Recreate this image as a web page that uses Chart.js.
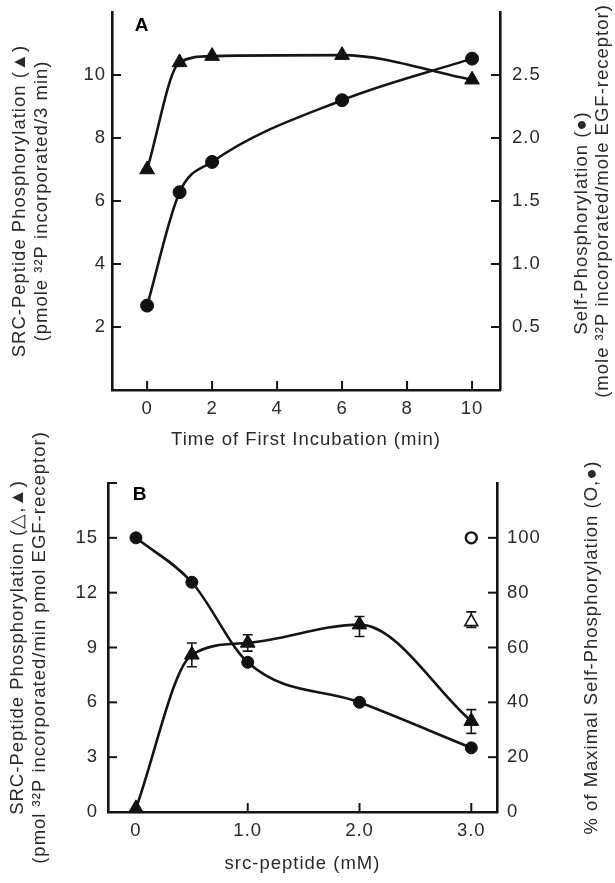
<!DOCTYPE html>
<html>
<head>
<meta charset="utf-8">
<script src="https://cdn.jsdelivr.net/npm/chart.js@4.4.1/dist/chart.umd.min.js"></script>
<style>
  html, body { margin: 0; padding: 0; background: #fff; }
  canvas { position: absolute; left: 0; }
  #chartA { top: 0; }
  #chartB { top: 425px; }
</style>
</head>
<body>
<canvas id="chartA" width="615" height="460"></canvas>
<canvas id="chartB" width="615" height="458"></canvas>
<script>
// ---- Panel A: time of first incubation ----
const timeMin = [0, 1, 2, 6, 10];
const srcPhosA = [7.0, 10.4, 10.6, 10.63, 9.85];      // left axis, triangles
const selfPhosA = [0.67, 1.57, 1.81, 2.30, 2.63];     // right axis, circles
const xTicksA = [0, 2, 4, 6, 8, 10];
const leftTicksA = [2, 4, 6, 8, 10];
const rightTicksA = [0.5, 1.0, 1.5, 2.0, 2.5];

// ---- Panel B: src-peptide concentration ----
const peptideMM = [0, 0.5, 1.0, 2.0, 3.0];
const srcPhosB = [0.2, 8.6, 9.25, 10.25, 4.97];       // left axis, filled triangles
const srcPhosBLow = [null, 7.95, 8.8, 9.6, 4.3];
const srcPhosBHigh = [null, 9.25, 9.7, 10.7, 5.6];
const selfPhosB = [100, 83.8, 54.6, 40, 23.4];        // right axis, filled circles
const controlMM = [3.0];
const controlSrcPhos = [10.4];                        // open triangle
const controlSrcLow = [10.1];
const controlSrcHigh = [10.95];
const controlSelfPhos = [100];                        // open circle
const xTicksB = [0, 1, 2, 3];
const xTickLabelsB = ['0', '1.0', '2.0', '3.0'];
const leftTicksB = [0, 3, 6, 9, 12, 15];
const rightTicksB = [0, 20, 40, 60, 80, 100];

// ---- axis titles ----
const leftTitleA = ['SRC-Peptide Phosphorylation (\u25B2)', '(pmole \u00B3\u00B2P incorporated/3 min)'];
const rightTitleA = ['Self-Phosphorylation (\u25CF)', '(mole \u00B3\u00B2P incorporated/mole EGF-receptor)'];
const xTitleA = 'Time of First Incubation (min)';
const leftTitleB = ['SRC-Peptide Phosphorylation (\u25B3,\u25B2)', '(pmol \u00B3\u00B2P incorporated/min pmol EGF-receptor)'];
const rightTitleB = ['% of Maximal Self-Phosphorylation (O,\u25CF)'];
const xTitleB = 'src-peptide (mM)';

const ink = '#151515';
const textInk = '#2a2a2a';
const family = "'Liberation Sans', Arial, sans-serif";
Chart.defaults.font.family = family;
Chart.defaults.color = textInk;

const pts = (xs, ys) => xs.map((x, i) => ({ x: x, y: ys[i] }));

// loose tracking like the scanned Helvetica
const spacing = {
  id: 'spacing',
  beforeLayout(chart) { chart.ctx.letterSpacing = '1px'; },
  beforeDraw(chart) { chart.ctx.letterSpacing = '1px'; }
};

// ticks point into the plot, drawn from the scales' own ticks
const inwardTicks = {
  id: 'inwardTicks',
  afterDraw(chart, args, opts) {
    const ctx = chart.ctx;
    const len = 9;
    ctx.save();
    ctx.strokeStyle = ink;
    ctx.lineWidth = 2;
    Object.values(chart.scales).forEach(scale => {
      const vals = scale.ticks.map(t => t.value);
      if (opts.hook && scale.id === 'y') vals.push(scale.max);
      vals.forEach(v => {
        const p = scale.getPixelForValue(v);
        ctx.beginPath();
        if (scale.axis === 'x') {
          ctx.moveTo(p, scale.top); ctx.lineTo(p, scale.top - len);
        } else if (scale.position === 'left') {
          ctx.moveTo(scale.right, p); ctx.lineTo(scale.right + len, p);
        } else {
          ctx.moveTo(scale.left, p); ctx.lineTo(scale.left - len, p);
        }
        ctx.stroke();
      });
    });
    ctx.restore();
  }
};

// vertical error bars with caps
const errorBars = {
  id: 'errorBars',
  beforeDatasetsDraw(chart) {
    const ctx = chart.ctx;
    ctx.save();
    ctx.strokeStyle = ink;
    ctx.lineWidth = 1.6;
    chart.data.datasets.forEach((ds, di) => {
      if (!ds.errLow) return;
      const meta = chart.getDatasetMeta(di);
      const ys = chart.scales[ds.yAxisID];
      meta.data.forEach((el, i) => {
        if (ds.errLow[i] == null) return;
        const x = el.x;
        const y1 = ys.getPixelForValue(ds.errLow[i]);
        const y2 = ys.getPixelForValue(ds.errHigh[i]);
        ctx.beginPath();
        ctx.moveTo(x, y1); ctx.lineTo(x, y2);
        ctx.moveTo(x - 5, y1); ctx.lineTo(x + 5, y1);
        ctx.moveTo(x - 5, y2); ctx.lineTo(x + 5, y2);
        ctx.stroke();
      });
    });
    ctx.restore();
  }
};

// panel letter and right-hand titles (read bottom to top like the left ones)
const panelText = {
  id: 'panelText',
  afterDraw(chart, args, opts) {
    const ctx = chart.ctx;
    const area = chart.chartArea;
    ctx.save();
    ctx.fillStyle = '#000';
    ctx.font = 'bold 19px ' + family;
    ctx.textAlign = 'center';
    ctx.textBaseline = 'middle';
    ctx.fillText(opts.letter, area.left + opts.letterDx, area.top + opts.letterDy);
    ctx.fillStyle = textInk;
    ctx.font = '18.5px ' + family;
    const rs = chart.scales.yR;
    const cy = (area.top + area.bottom) / 2;
    opts.rightTitle.forEach((line, i) => {
      ctx.save();
      ctx.translate(rs.left + opts.rightDx[i], cy + opts.rightDy[i]);
      ctx.rotate(-Math.PI / 2);
      ctx.fillText(line, 0, 0);
      ctx.restore();
    });
    ctx.restore();
  }
};

const tickFont = { size: 18.5 };
const titleFont = { size: 18.5, lineHeight: 1.2 };
const border = { display: true, color: ink, width: 2.6 };
const noGrid = { display: false, drawTicks: false };

// fixed axis boxes so the plot area sits where the figure has it
const fixWidth = w => s => { s.width = w; s.paddingTop = 0; s.paddingBottom = 0; };
const fixHeight = h => s => { s.height = h; s.paddingLeft = 0; s.paddingRight = 0; };

function lineSet(data, axis, style, radius) {
  return {
    data: data,
    yAxisID: axis,
    borderColor: ink,
    backgroundColor: ink,
    borderWidth: 2.6,
    pointStyle: style,
    pointRadius: radius,
    pointBorderWidth: 1,
    pointBackgroundColor: '#111',
    pointBorderColor: '#111',
    cubicInterpolationMode: 'monotone',
    clip: false
  };
}

new Chart(document.getElementById('chartA'), {
  type: 'line',
  data: {
    datasets: [
      lineSet(pts(timeMin, srcPhosA), 'y', 'triangle', 8.5),
      lineSet(pts(timeMin, selfPhosA), 'yR', 'circle', 6.5)
    ]
  },
  options: {
    responsive: false,
    animation: false,
    layout: { autoPadding: false, padding: { top: 12, left: 0, right: 0, bottom: 0 } },
    plugins: {
      legend: { display: false },
      tooltip: { enabled: false },
      inwardTicks: { hook: false },
      panelText: { letter: 'A', letterDx: 30, letterDy: 14, rightTitle: rightTitleA, rightDx: [82, 103], rightDy: [22, 0] }
    },
    scales: {
      x: {
        type: 'linear', min: -1.08, max: 10.86,
        afterBuildTicks: s => { s.ticks = xTicksA.map(v => ({ value: v })); },
        afterFit: fixHeight(70),
        grid: noGrid, border: border,
        ticks: { font: tickFont, padding: 8, maxRotation: 0 },
        title: { display: true, text: xTitleA, font: titleFont, padding: { top: 0, bottom: 9 } }
      },
      y: {
        position: 'left', min: 0, max: 12,
        afterBuildTicks: s => { s.ticks = leftTicksA.map(v => ({ value: v })); },
        afterFit: fixWidth(112),
        grid: noGrid, border: border,
        ticks: { font: tickFont, padding: 6 },
        title: { display: true, text: leftTitleA, font: titleFont, padding: { top: 9, bottom: 0 } }
      },
      yR: {
        position: 'right', min: 0, max: 3,
        afterBuildTicks: s => { s.ticks = rightTicksA.map(v => ({ value: v })); },
        afterFit: fixWidth(115),
        grid: noGrid, border: border,
        ticks: { font: tickFont, padding: 12, callback: v => v.toFixed(1) }
      }
    }
  },
  plugins: [spacing, inwardTicks, errorBars, panelText]
});

const srcSetB = lineSet(pts(peptideMM, srcPhosB), 'y', 'triangle', 8.5);
srcSetB.errLow = srcPhosBLow;
srcSetB.errHigh = srcPhosBHigh;

const openTri = {
  data: pts(controlMM, controlSrcPhos),
  yAxisID: 'y',
  showLine: false,
  pointStyle: 'triangle',
  pointRadius: 7.5,
  pointBorderWidth: 1.6,
  pointBackgroundColor: '#fff',
  pointBorderColor: ink,
  errLow: controlSrcLow,
  errHigh: controlSrcHigh,
  clip: false
};
const openCirc = {
  data: pts(controlMM, controlSelfPhos),
  yAxisID: 'yR',
  showLine: false,
  pointStyle: 'circle',
  pointRadius: 5.5,
  pointBorderWidth: 2.4,
  pointBackgroundColor: '#fff',
  pointBorderColor: ink,
  clip: false
};

new Chart(document.getElementById('chartB'), {
  type: 'line',
  data: {
    datasets: [
      srcSetB,
      lineSet(pts(peptideMM, selfPhosB), 'yR', 'circle', 6),
      openTri,
      openCirc
    ]
  },
  options: {
    responsive: false,
    animation: false,
    layout: { autoPadding: false, padding: { top: 58, left: 0, right: 0, bottom: 0 } },
    plugins: {
      legend: { display: false },
      tooltip: { enabled: false },
      inwardTicks: { hook: true },
      panelText: { letter: 'B', letterDx: 32, letterDy: 12, rightTitle: rightTitleB, rightDx: [95], rightDy: [0] }
    },
    scales: {
      x: {
        type: 'linear', min: -0.25, max: 3.23,
        afterBuildTicks: s => { s.ticks = xTicksB.map(v => ({ value: v })); },
        afterFit: fixHeight(71),
        grid: noGrid, border: border,
        ticks: { font: tickFont, padding: 8, maxRotation: 0, callback: (v, i) => xTickLabelsB[i] },
        title: { display: true, text: xTitleB, font: titleFont, padding: { top: 0, bottom: 8 } }
      },
      y: {
        position: 'left', min: 0, max: 18,
        afterBuildTicks: s => { s.ticks = leftTicksB.map(v => ({ value: v })); },
        afterFit: fixWidth(108),
        grid: noGrid, border: border,
        ticks: { font: tickFont, padding: 10 },
        title: { display: true, text: leftTitleB, font: titleFont, padding: { top: 7, bottom: 0 } }
      },
      yR: {
        position: 'right', min: 0, max: 120,
        afterBuildTicks: s => { s.ticks = rightTicksB.map(v => ({ value: v })); },
        afterFit: fixWidth(118),
        grid: noGrid, border: border,
        ticks: { font: tickFont, padding: 10 }
      }
    }
  },
  plugins: [spacing, inwardTicks, errorBars, panelText]
});
</script>
</body>
</html>
